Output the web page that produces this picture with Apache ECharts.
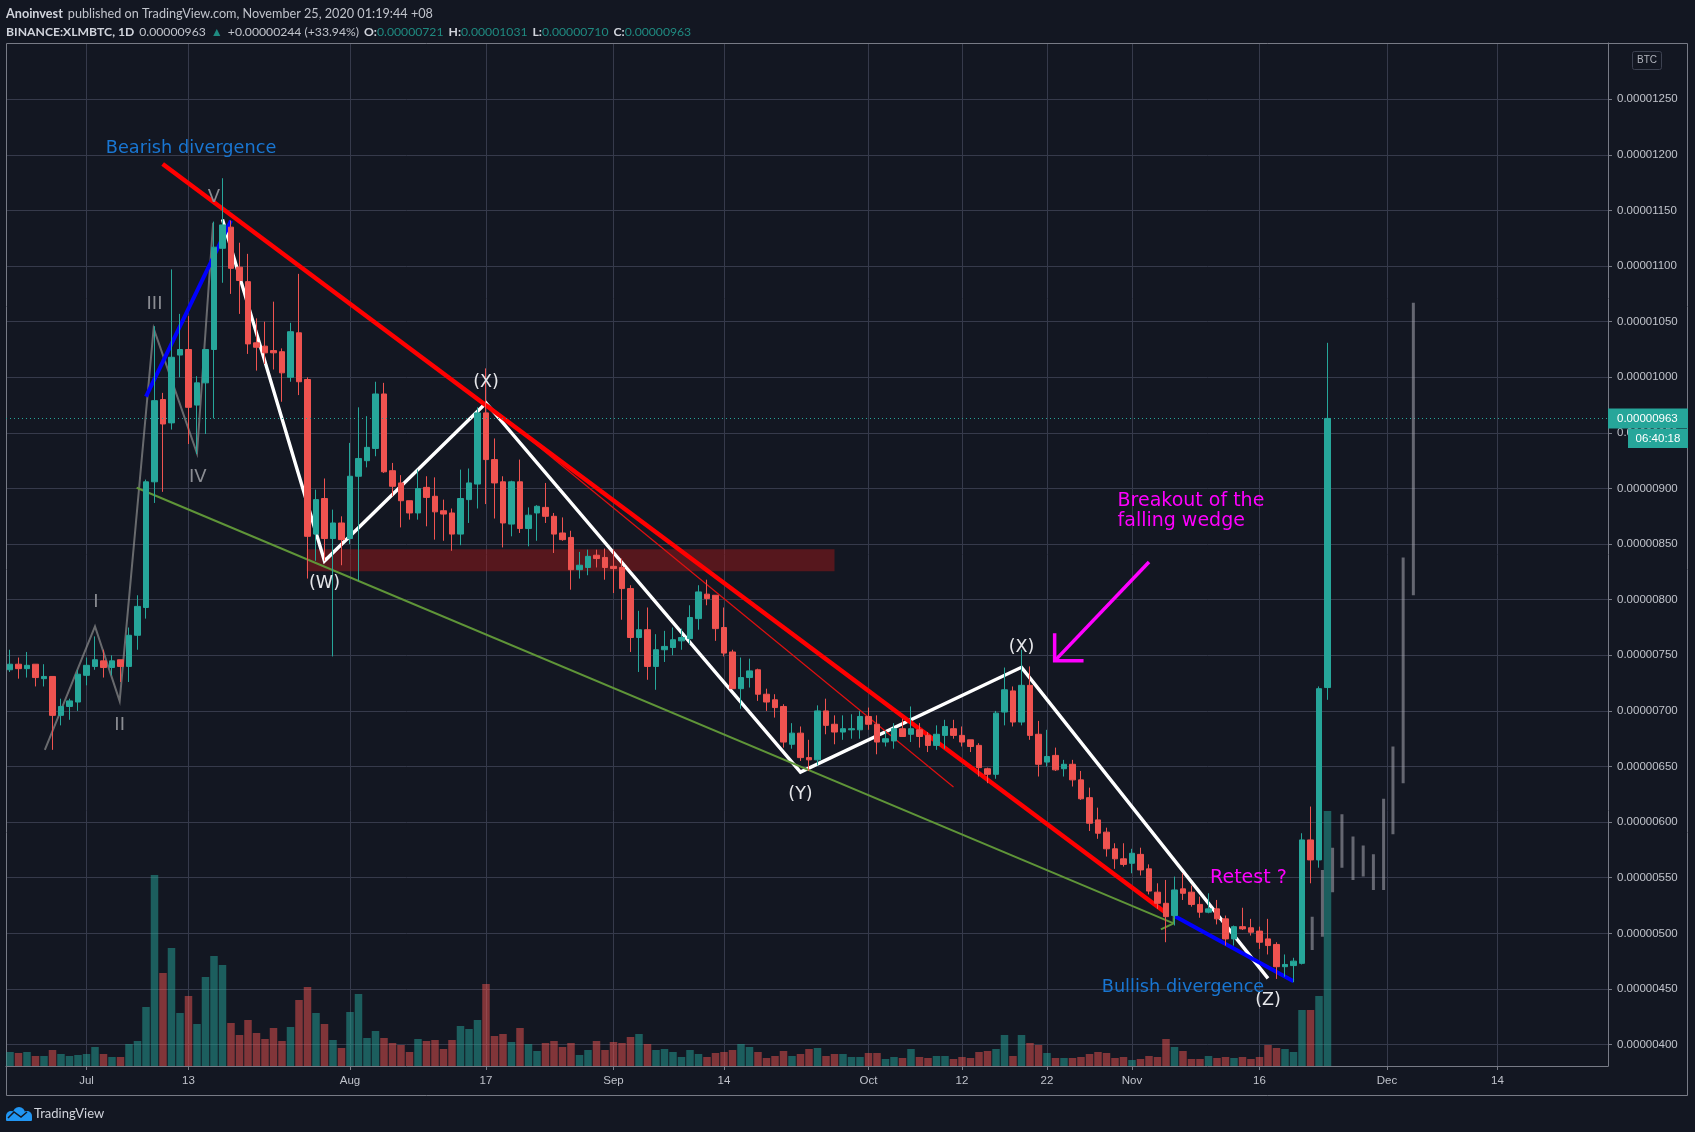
<!DOCTYPE html>
<html><head><meta charset="utf-8">
<style>html,body{margin:0;padding:0;background:#131722}#c{width:1695px;height:1132px}</style>
<script src="https://cdn.jsdelivr.net/npm/echarts@6/dist/echarts.min.js"></script>
</head><body><div id="c"></div>
<script>
// Prices are in satoshi (1e-8 BTC). X positions are days counted from 1 Jul 2020.
const firstDay = -9; // 22 Jun 2020, first candle
const opens = [737,742,738,742,729,731,696,704,708,732,740,745,739,746,740,768,793,906,980,959,
1020,1025,975,995,1025,1116,1135,1099,1086,1031,1028,1024,1023,1000,1040,998,859,891,855,869,
855,911,925,936,985,916,905,889,878,901,893,880,878,859,890,904,968,926,906,868,
906,864,878,883,875,860,856,827,829,840,838,830,829,810,766,773,740,755,757,763,
765,783,805,804,775,753,720,730,737,715,710,704,670,680,658,656,700,688,681,683,
683,695,688,672,673,684,679,683,678,669,678,684,678,674,669,648,643,699,718,690,
723,679,654,660,648,652,638,622,602,591,576,567,563,571,558,537,527,516,540,537,
526,519,522,513,495,506,505,502,495,490,470,471,473,584,566,721];
const closes = [742,738,741,730,731,696,704,709,733,741,746,739,745,740,768,794,906,979,958,1018,
1025,973,995,1025,1117,1137,1098,1087,1030,1027,1022,1022,1004,1041,996,857,890,855,869,854,
911,927,937,985,915,902,889,878,900,892,879,877,859,891,905,968,926,905,869,906,
864,876,884,875,859,854,827,831,839,837,829,828,810,766,773,740,755,758,764,766,
784,807,801,774,752,720,730,736,715,708,703,672,680,658,656,700,687,681,684,684,
695,688,672,675,684,677,684,677,669,679,686,678,672,668,649,643,698,719,690,723,
678,652,659,647,652,638,621,599,590,576,567,562,572,557,538,527,515,539,536,526,
519,522,513,495,506,504,501,492,489,470,472,475,584,566,720,963];
const lows = [735,729,730,722,722,665,687,692,700,723,737,730,732,726,726,755,783,887,897,953,
1000,940,931,949,963,1085,1075,1057,1021,1006,1012,1007,978,996,984,819,835,835,749,831,
850,817,919,929,914,893,865,872,872,866,854,853,844,849,869,882,886,873,847,857,
860,848,853,869,842,853,809,819,822,829,818,806,782,753,735,728,719,744,750,755,
760,773,795,763,749,720,702,721,709,700,694,667,666,655,646,651,679,670,674,675,
675,683,661,668,666,677,672,667,663,665,666,675,668,663,641,635,639,687,686,687,
674,641,650,646,641,632,620,592,585,569,558,560,554,552,535,522,492,507,530,524,
514,518,508,489,489,503,498,486,481,459,461,456,472,545,559,710];
const highs = [755,748,753,742,742,731,711,711,737,748,767,755,750,746,775,804,908,1046,986,1097,
1057,1055,1001,1025,1140,1179,1141,1121,1111,1053,1050,1068,1026,1049,1093,1000,899,909,881,875,
941,973,965,996,995,923,912,889,917,911,910,890,882,917,918,973,1008,945,911,907,
926,883,885,905,878,874,862,843,845,845,846,845,837,813,790,793,769,772,775,774,
795,813,818,804,793,755,748,747,738,720,715,706,689,686,674,705,711,696,696,697,
700,703,696,682,689,693,704,689,681,687,692,692,686,674,671,649,700,739,722,755,
740,691,683,667,656,656,646,631,613,595,581,581,576,577,562,545,548,551,554,543,
533,536,530,516,507,523,513,506,513,492,481,478,590,614,722,1031];
const volumes = [14,13,14,10,10,16,12,10,11,12,19,12,9,9,22,25,59,191,93,118,
53,70,42,89,110,101,43,31,46,33,27,38,25,39,66,79,53,42,26,18,
54,72,28,35,28,23,21,14,27,25,26,17,26,40,37,46,82,30,32,24,
38,22,15,23,25,19,23,11,16,25,16,24,23,29,32,22,16,17,14,9,
16,12,9,13,14,16,22,19,14,8,10,15,10,12,17,18,10,12,12,9,
9,13,13,7,9,8,17,9,8,10,10,7,9,8,14,15,17,31,10,31,
23,21,13,8,8,8,9,12,14,13,8,9,6,7,10,9,27,19,15,7,
7,10,8,9,8,9,7,9,21,18,17,14,56,56,70,255];

const xTickDays = [0,12,31,47,62,75,92,103,113,123,138,153,166];
const xTickLabels = ['Jul','13','Aug','17','Sep','14','Oct','12','22','Nov','16','Dec','14'];
const yTicks = [400,450,500,550,600,650,700,750,800,850,900,950,1000,1050,1100,1150,1200,1250];
const lastPrice = 963;

// Ghost (projected) bars
const ghostDays = [144.2,145.4,146.6,147.7,149,150.2,151.4,152.6,153.7,154.9,156.1];
const ghostHighs = [515,557,577,607,587,579,571,621,668,838,1067];
const ghostLows = [485,497,537,559,548,551,539,539,589,635,804];

// Hand-drawn chart annotations [day, price]
const trendRedThick = [[8.96,1191.8],[126.9,519]];
const trendRedThin = [[47.1,976],[102,631.6]];
const wedgeGreen = [[5.9,900.7],[127.9,509]];
const wedgeGreenHead = [[126.4,503.6],[127.9,509],[127.9,518]];
const waveGrey = [[-4.9,664.9],[1,776],[3.9,708.8],[7.9,1044],[13,931.7],[14.9,1139]];
const waveWhite = [[16,1142],[28,834.8],[47,976.9],[84,645],[110,739.2],[139,459.5]];
const divBlueTop = [[7,982.6],[17,1140.8]];
const divBlueBottom = [[128,515.6],[142,457]];
const arrowShaft = [[125,833.9],[113.9,745]];
const arrowHead = [[113.9,769.8],[113.9,745],[117.3,745]];
const zoneX = [25.9,88];
const zoneY = [825.5,845.3];

const notesGrey = [[1.1,798,'I'],[3.9,687.4,'II'],[8,1066,'III'],[13.1,910.3,'IV'],[15,1161.5,'V']];
const notesWhite = [[28,815,'(W)'],[47,995,'(X)'],[84,625.3,'(Y)'],[110,756.8,'(X)'],[139,440,'(Z)']];
const notesBlue = [[12.3,1206.2,'Bearish divergence'],[129,451.7,'Bullish divergence']];
const notesMagenta = [[136.7,549.5,'Retest ?']];
const notesMagentaLeft = [[121.3,879.5,'Breakout of the\nfalling wedge']];

const UP='#26a69a', DOWN='#ef5350', BG='#131722', GRID='#363a4b', AX='#787b86', TXT='#b2b5be';
const FONT='"DejaVu Sans"';
const HEAD='Lato';

const candles = opens.map((o,i)=>[firstDay+i,o,closes[i],lows[i],highs[i]]);
const volumeData = volumes.map((v,i)=>({value:[firstDay+i,v],
  itemStyle:{color: closes[i]>=opens[i] ? 'rgba(38,166,154,0.5)' : 'rgba(239,83,80,0.5)'}}));
const ghostData = [];
ghostDays.forEach((d,i)=>{ghostData.push([d,ghostLows[i]],[d,ghostHighs[i]],[d,null]);});

function lineS(name,data,color,width,z){
  return {name,type:'line',data,z,showSymbol:false,symbol:'none',silent:true,animation:false,
    lineStyle:{color,width,cap:'butt',join:'miter'},itemStyle:{color},connectNulls:false};
}
function noteS(name,data,color,size,align,lh,weight){
  return {name,type:'scatter',z:20,symbolSize:1,silent:true,animation:false,
    itemStyle:{color:'rgba(0,0,0,0)',opacity:1},
    data:data.map(d=>({value:[d[0],d[1]],name:d[2]})),
    label:{show:true,position:'inside',opacity:1,formatter:p=>p.name,color,fontSize:size,fontFamily:FONT,fontWeight:weight||'normal',align:align||'center',verticalAlign:'middle',lineHeight:lh||size*1.2}};
}
const headStyle=(size,color,fontWeight)=>({fontFamily:HEAD,fontSize:size,fontWeight:fontWeight||'normal',color,lineHeight:16.6});

const chart = echarts.init(document.getElementById('c'),null,{renderer:'canvas'});
chart.setOption({
  animation:false,
  backgroundColor:BG,
  title:{left:6,top:5,padding:0,
    text:'{b|Anoinvest} {n|published on TradingView.com, November 25, 2020 01:19:44 +08}\n'+
      '{b2|BINANCE:XLMBTC, 1D} {n2|0.00000963} {g2|▲} {n2|+0.00000244 (+33.94%)} {b2|O:}{g2|0.00000721} {b2|H:}{g2|0.00001031} {b2|L:}{g2|0.00000710} {b2|C:}{g2|0.00000963}',
    textStyle:{rich:{
      b:headStyle(12.65,'#d1d4dc','bold'), n:headStyle(12.65,'#c0c3cb'),
      b2:headStyle(12.2,'#d1d4dc','bold'), n2:headStyle(12.2,'#c0c3cb'), g2:headStyle(12.2,'#1f8a80')}}},
  grid:{left:6,right:87,top:43,bottom:66,show:false},
  xAxis:{type:'value',min:-9.47,max:179,position:'bottom',
    axisLine:{show:true,onZero:false,lineStyle:{color:AX,width:1}},
    axisTick:{show:true,length:4,customValues:xTickDays,lineStyle:{color:AX}},
    axisLabel:{show:true,customValues:xTickDays,margin:9,color:'#c0c3cb',fontSize:11.5,fontFamily:'"Liberation Sans"',
      formatter:v=>xTickLabels[xTickDays.indexOf(v)]},
    splitLine:{show:true,lineStyle:{color:GRID,width:1}}},
  yAxis:[{type:'value',position:'right',min:380.7,max:1300.6,
    axisLine:{show:true,onZero:false,lineStyle:{color:AX,width:1}},
    axisTick:{show:true,length:4,customValues:yTicks,lineStyle:{color:AX}},
    axisLabel:{show:true,customValues:yTicks,margin:9,color:'#c0c3cb',fontSize:11.5,fontFamily:'"Liberation Sans"',
      formatter:v=>(v/1e8).toFixed(8)},
    splitLine:{show:true,lineStyle:{color:GRID,width:1}}},
   {type:'value',show:false,min:0,max:1023,splitLine:{show:false}}],
  series:[
    {name:'Volume',type:'bar',yAxisIndex:1,data:volumeData,barWidth:7.5,z:2,silent:true,animation:false},
    lineS('Waves',waveGrey,'rgba(150,150,150,0.65)',2,3),
    lineS('Waves WXY',waveWhite,'#ffffff',3.4,4),
    {name:'Zone',type:'line',data:[],z:5,silent:true,animation:false,
      markArea:{silent:true,animation:false,itemStyle:{color:'rgba(178,24,24,0.42)'},
        data:[[{xAxis:zoneX[0],yAxis:zoneY[0]},{xAxis:zoneX[1],yAxis:zoneY[1]}]]}},
    lineS('Wedge lower',wedgeGreen,'#5f9538',2,6),
    lineS('Wedge head',wedgeGreenHead,'#5f9538',2,6),
    lineS('Trend thin',trendRedThin,'#e01010',1.2,6),
    lineS('Trend',trendRedThick,'#ff0000',4.5,6),
    lineS('Div top',divBlueTop,'#0000ff',4,7),
    lineS('Div bottom',divBlueBottom,'#0000ff',4,7),
    lineS('Arrow shaft',arrowShaft,'#ff00ff',3.5,7),
    lineS('Arrow head',arrowHead,'#ff00ff',3.5,7),
    {name:'XLMBTC',type:'candlestick',data:candles,barWidth:6,z:10,silent:true,animation:false,
      itemStyle:{color:UP,color0:DOWN,borderColor:UP,borderColor0:DOWN,borderWidth:1},
      markLine:{silent:true,symbol:'none',animation:false,z:11,
        lineStyle:{color:UP,type:[1,3],width:1},
        label:{show:true,position:'end',formatter:()=>(lastPrice/1e8).toFixed(8),distance:0,
          color:'#ffffff',backgroundColor:UP,fontFamily:'"Liberation Sans"',fontSize:11.5,
          padding:[4,9,4,9],width:62,align:'left'},
        data:[{yAxis:lastPrice}]}},
    lineS('Projection',ghostData,'rgba(170,170,178,0.55)',3,12),
    noteS('Grey notes',notesGrey,'#8a8c92',18),
    noteS('White notes',notesWhite,'#e6e7ea',17.5),
    noteS('Blue notes',notesBlue,'#1976d2',17.7),
    noteS('Magenta notes',notesMagenta,'#ff00ff',19),
    noteS('Magenta left',notesMagentaLeft,'#ff00ff',19,'left',19.5)
  ],
  graphic:[
    {type:'rect',silent:true,z:1,shape:{x:6.5,y:43.5,width:1681,height:1052},style:{fill:'none',stroke:AX,lineWidth:1}},
    {type:'rect',silent:true,z:100,shape:{x:1628,y:429,width:60,height:19},style:{fill:UP}},
    {type:'text',silent:true,z:101,style:{x:1658,y:438.5,text:'06:40:18',fill:'#fff',font:'11.5px "Liberation Sans"',align:'center',verticalAlign:'middle'}},
    {type:'rect',silent:true,z:100,shape:{x:1632.5,y:51.5,width:29,height:18,r:2},style:{fill:BG,stroke:'#3c4150',lineWidth:1}},
    {type:'text',silent:true,z:101,style:{x:1647,y:60.5,text:'BTC',fill:TXT,font:'10px "Liberation Sans"',align:'center',verticalAlign:'middle'}},
    {type:'circle',silent:true,z:100,shape:{cx:11,cy:1116,r:5},style:{fill:'#2196f3'}},
    {type:'circle',silent:true,z:100,shape:{cx:19,cy:1113,r:6},style:{fill:'#2196f3'}},
    {type:'circle',silent:true,z:100,shape:{cx:27,cy:1116,r:5},style:{fill:'#2196f3'}},
    {type:'rect',silent:true,z:100,shape:{x:6,y:1116,width:26,height:5,r:1},style:{fill:'#2196f3'}},
    {type:'polyline',silent:true,z:101,shape:{points:[[8,1118],[14,1112],[21,1117],[27,1112]]},style:{fill:'none',stroke:BG,lineWidth:1.5}},
    {type:'text',silent:true,z:101,style:{x:34,y:1114,text:'TradingView',fill:'#d1d4dc',font:'13px Lato',align:'left',verticalAlign:'middle'}}
  ]
});
</script></body></html>
